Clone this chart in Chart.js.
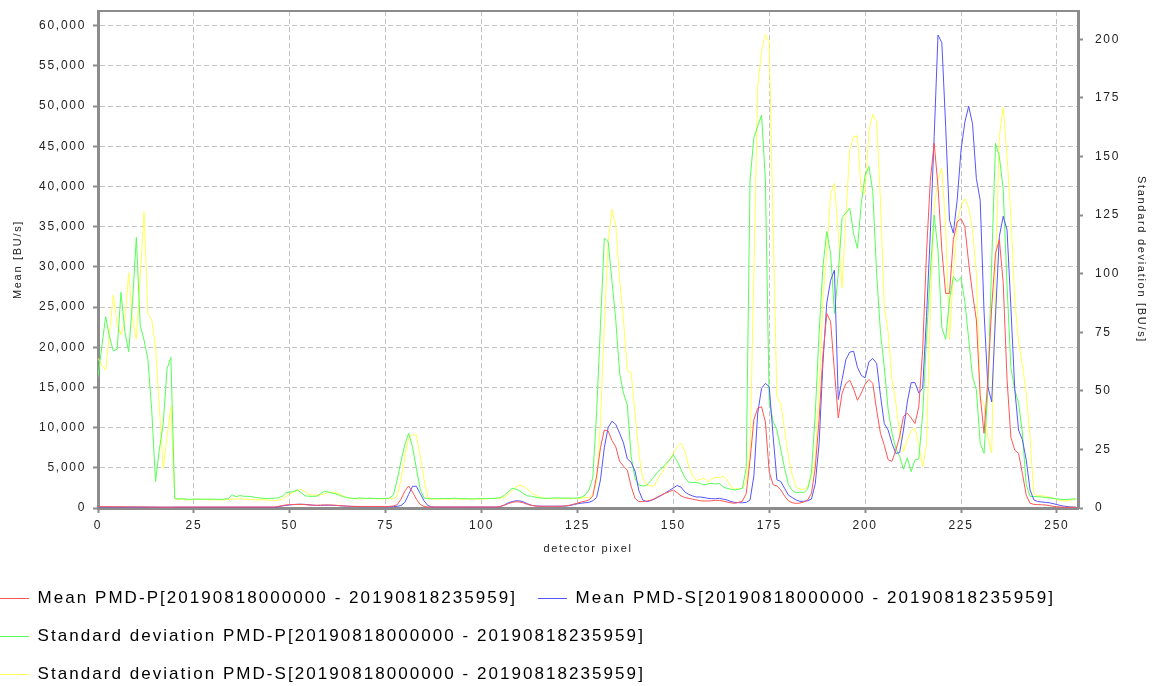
<!DOCTYPE html>
<html>
<head>
<meta charset="utf-8">
<script src="https://cdn.jsdelivr.net/npm/chart.js@4.4.0/dist/chart.umd.min.js"></script>
<style>
  html, body { margin: 0; padding: 0; background: #fff; }
  #wrap { width: 1155px; height: 686px; }
</style>
</head>
<body>
<div id="wrap"><canvas id="chart" width="1155" height="686"></canvas></div>
<script>
// PMD mean / standard deviation per detector pixel (dual axis line chart)

const pixels = Array.from({ length: 256 }, (_, i) => i);
const meanTicks = [0, 5000, 10000, 15000, 20000, 25000, 30000, 35000, 40000, 45000, 50000, 55000, 60000];

const seriesNames = [
  'Mean PMD-P[20190818000000 - 20190818235959]',
  'Mean PMD-S[20190818000000 - 20190818235959]',
  'Standard deviation PMD-P[20190818000000 - 20190818235959]',
  'Standard deviation PMD-S[20190818000000 - 20190818235959]'
];

// left axis, BU/s
const meanP = [
  180,170,160,160,150,150,150,140,140,140,140,130,130,120,120,110,
  110,100,100,100,120,120,120,120,120,120,120,120,120,120,120,120,
  120,120,120,120,120,120,120,120,120,120,120,120,120,120,120,200,
  300,380,420,440,450,450,420,380,350,340,360,380,380,360,330,300,
  260,230,210,200,200,190,190,190,190,190,190,190,200,250,400,1100,
  2100,2740,2000,1100,450,180,130,120,120,120,120,120,120,120,120,120,
  120,120,120,120,120,120,120,120,120,200,350,550,700,780,750,620,
  450,320,250,220,210,210,210,210,220,230,260,350,480,600,750,850,
  1000,1500,4000,7500,9700,9600,8400,7600,5800,5200,4700,2700,1200,800,790,850,
  950,1150,1400,1650,1850,2050,2240,1900,1500,1300,1200,1100,1000,900,870,880,
  900,950,950,850,750,650,580,700,850,1800,6000,11000,12400,12600,10700,4500,
  2900,2750,2250,1500,900,650,580,620,750,1000,1800,5000,11000,19000,24200,23200,
  17000,11200,14300,15500,15900,14800,13400,14300,15400,16000,15500,12200,9300,7800,6000,5800,
  7200,8900,11400,11800,11200,10500,12600,19700,31700,40800,45400,40000,32100,26700,26700,33400,
  35600,36000,35000,30500,26700,23400,14000,9300,16000,25000,31700,33400,28000,16000,8800,7200,
  6800,4300,1600,600,450,420,400,380,300,220,150,120,100,90,80,80
];

const meanS = [
  130,130,125,125,120,120,120,115,115,115,110,110,110,105,105,105,
  100,100,100,100,100,100,100,100,100,100,100,100,100,100,100,100,
  100,100,100,100,100,100,100,100,100,100,100,100,100,100,100,150,
  250,320,380,420,460,470,450,400,350,320,320,340,350,340,320,280,
  250,220,200,190,180,170,170,170,170,170,170,170,170,180,200,300,
  700,1700,2700,2700,1800,900,300,150,120,120,120,120,120,120,120,120,
  120,120,120,120,120,120,120,120,120,200,400,650,800,900,880,750,
  520,350,260,230,220,220,220,220,220,230,250,300,420,520,600,650,
  700,900,1300,3500,7500,10000,10800,10400,9300,8100,6100,5700,4600,2200,1000,800,
  900,1100,1350,1600,1900,2200,2500,2800,2600,2000,1700,1500,1370,1370,1300,1200,
  1160,1160,1200,1100,1000,800,700,660,650,700,1000,4000,11800,14900,15500,15100,
  9000,3500,3300,2450,1600,1300,1000,830,830,900,1100,3000,8000,18000,25500,28300,
  29600,13500,16000,18500,19400,19500,17500,16500,16200,18200,18600,18000,14000,10500,9700,8050,
  6800,6900,9700,13200,15600,15600,14300,14900,23800,34200,46200,58850,57900,47500,35800,34200,
  38300,44500,48000,50000,47800,41000,38300,24500,15100,13200,24000,33800,36300,34600,25000,14900,
  9700,8500,6000,2240,1000,800,750,700,650,550,420,300,220,160,120,100
];

// right axis, BU/s
const stdP = [
  56,69,81.7,73,67,67.8,92,75.3,66.7,88,115.5,78,71.7,63.5,42,11.3,
  25,36,59.4,64.3,4.1,3.8,4.0,3.8,3.7,3.8,3.8,3.7,3.8,3.8,3.8,3.7,
  3.7,3.8,4.0,5.6,4.8,5.3,5.0,5.0,4.9,4.5,4.3,4.2,4.0,4.1,4.2,4.3,
  5.0,6.5,6.8,7.0,7.7,6.5,5.2,5.0,5.0,5.0,6.0,7.2,6.8,6.4,6.0,5.4,
  4.8,4.4,4.2,4.0,4.3,4.2,4.1,4.2,4.1,4.0,4.1,4.1,4.2,5.5,12,20,
  27,31.9,26,17,8,4.3,4.0,3.9,4.0,4.0,4.1,4.0,4.1,4.2,4.0,4.0,
  4.0,3.9,3.9,4.0,4.0,4.0,4.1,4.1,4.2,4.5,5.5,7.0,8.4,8.0,7.3,6.0,
  5.2,5.0,4.6,4.3,4.2,4.1,4.2,4.3,4.3,4.2,4.3,4.2,4.2,4.3,4.6,5.5,
  7.7,13,41,78,115.1,113.7,97,80,57.5,49,44,22,12.7,9.8,9.4,9.6,
  11.5,13.5,15.6,17,18.8,20.5,22.6,20,16.5,13,11,10.9,10.9,10.5,9.8,10.3,
  10.5,10.2,10.5,9,8.4,8,7.7,8,8.4,17,140,158,163,167.7,140,45,
  37,33.3,25,17,10,7.5,6.5,6.8,6.5,8,15,40,75,103,118,108.7,
  83,100,124,126,128,117,110.8,130,142,145.7,135,100,75,60,42,32,
  25.5,22,16.5,21.5,15.5,20.5,21,40,72,101,125,110,77,72,89,98.7,
  96.6,98.5,88,72,56,50.5,27.6,23.3,50,105,155.6,150,136,95,60,50.4,
  45,32,10,5,4.9,4.8,4.7,4.5,4.3,4.1,3.9,3.7,3.6,3.7,3.8,3.9
];

const stdS = [
  63.9,61,58.9,75,90.9,78,74,80,100.4,80,72,99,126.5,83,80.2,68.9,
  43,16.9,30,43.3,4,3.6,3.7,3.5,3.4,3.6,3.8,3.7,3.6,3.5,3.6,3.5,
  3.4,3.5,3.6,3.8,3.9,3.9,3.8,3.7,3.6,3.5,3.5,3.6,3.4,3.3,3.2,3.3,
  3.8,5.0,6.0,6.8,7.5,7.9,7.0,5.8,5.5,5.5,5.6,6.0,6.6,6.8,6.5,6.0,
  5.0,4.5,4.0,3.9,4.0,3.9,4.0,4.1,4.0,3.9,3.9,4.0,4.0,4.0,5.0,12,
  22,30,31.2,31.2,22,12,4.5,4.0,3.8,3.8,3.9,3.8,3.8,3.9,3.8,3.7,
  3.8,3.8,3.9,3.8,3.8,3.9,4.0,4.0,4.1,4.3,4.5,6.0,7.5,9.0,9.8,9.2,
  8.0,6.5,5.5,4.8,4.3,4.0,4.0,3.9,4.0,4.1,4.0,4.0,4.1,4.0,4.2,4.5,
  4.4,6,11,37,78,113,127.5,120.5,97.3,80.2,58.6,57.8,40.4,23.3,12.7,9.8,
  9.4,9.4,12.7,15,17.8,20.5,23.5,26,27.7,24.2,17.8,14,11.7,12.2,12.7,11.3,
  12.5,13,13,13.5,12,9,8,8.2,8.4,11,25,100,180,195,202,199,
  120,47.5,44.7,33.3,22,14,9,8,8,9,13,20.5,50,89,109,134,
  138.6,117,94,125,152.8,158.5,158.8,135,134.3,161,168,165,131,86,75,55,
  45,32,24,29,33,34,27,17.6,27,85,128,140,145,120,72,100,
  122,129,132,128,119,100,47,44,30,23.5,100,159,171,150,125,89,
  71,61,49,30,6,5.2,5.2,5.0,4.6,4.2,3.6,3.2,3.0,3.2,3.5,3.7
];

const FONT = "'Liberation Sans', Arial, sans-serif";
const AXIS_GREY = '#8c8c8c';
const GRID_GREY = '#c4c4c4';
const TEXT = '#222';

function points(values) {
  return values.map((v, i) => ({ x: pixels[i], y: v }));
}

function lineSet(label, values, color, axis) {
  return {
    label: label,
    data: points(values),
    yAxisID: axis,
    borderColor: color,
    backgroundColor: color,
    borderWidth: 1,
    pointRadius: 0,
    tension: 0,
    fill: false
  };
}

// canvas letter spacing: the source renders its text fairly wide
const spacingPlugin = {
  id: 'spacing',
  afterInit(chart) {
    const lg = chart.legend;
    if (!lg) return;
    ['fit', 'draw'].forEach(function (name) {
      const orig = lg[name];
      lg[name] = function () {
        const ctx = this.ctx;
        const prev = ctx.letterSpacing;
        ctx.letterSpacing = '2.05px';
        const r = orig.apply(this, arguments);
        ctx.letterSpacing = prev;
        return r;
      };
    });
  },
  beforeLayout(chart) { chart.ctx.letterSpacing = '1.7px'; },
  beforeDraw(chart) { chart.ctx.letterSpacing = '1.7px'; }
};

// top edge of the plot frame
const framePlugin = {
  id: 'frame',
  beforeDatasetsDraw(chart) {
    const a = chart.chartArea;
    const ctx = chart.ctx;
    ctx.save();
    ctx.strokeStyle = AXIS_GREY;
    ctx.lineWidth = 2;
    ctx.beginPath();
    ctx.moveTo(a.left, a.top);
    ctx.lineTo(a.right, a.top);
    ctx.stroke();
    ctx.restore();
  }
};

function fixWidth(w) {
  return function (s) {
    s.width = w;
    s.paddingTop = 0;
    s.paddingBottom = 0;
  };
}

const tickFont = { family: FONT, size: 12 };
const titleFont = { family: FONT, size: 11 };

const chart = new Chart(document.getElementById('chart'), {
  type: 'line',
  data: {
    datasets: [
      lineSet(seriesNames[0], meanP, '#ff5555', 'y'),
      lineSet(seriesNames[1], meanS, '#5555ff', 'y'),
      lineSet(seriesNames[2], stdP, '#55ff55', 'y1'),
      lineSet(seriesNames[3], stdS, '#ffff55', 'y1')
    ]
  },
  options: {
    responsive: false,
    animation: false,
    events: [],
    layout: { padding: { top: 11, left: -21, right: 0, bottom: -7 } },
    scales: {
      x: {
        type: 'linear',
        min: 0,
        max: 255.5,
        afterFit(s) { s.height = 61; },
        ticks: { stepSize: 25, includeBounds: false, autoSkip: false, maxRotation: 0, padding: 5, color: TEXT, font: tickFont },
        grid: { color: GRID_GREY, lineWidth: 1, tickLength: 5, tickColor: AXIS_GREY, tickWidth: 2 },
        border: { color: AXIS_GREY, width: 3, dash: [5, 3] },
        title: { display: true, text: 'detector pixel', color: TEXT, font: titleFont, padding: { top: 0, bottom: 13.4 } }
      },
      y: {
        type: 'linear',
        position: 'left',
        min: 0,
        max: 61840,
        afterBuildTicks(s) { s.ticks = meanTicks.map(v => ({ value: v })); },
        afterFit: fixWidth(119),
        ticks: { padding: 7, color: TEXT, font: tickFont },
        grid: { color: GRID_GREY, lineWidth: 1, tickLength: 5, tickColor: AXIS_GREY, tickWidth: 2 },
        border: { color: AXIS_GREY, width: 3, dash: [5, 3] },
        title: { display: true, text: 'Mean [BU/s]', color: TEXT, font: titleFont, padding: { top: 31.9, bottom: 0 } }
      },
      y1: {
        type: 'linear',
        position: 'right',
        min: 0,
        max: 212.1,
        afterFit: fixWidth(77),
        ticks: { stepSize: 25, includeBounds: false, padding: 12, color: TEXT, font: tickFont },
        grid: { drawOnChartArea: false, tickLength: 5, tickColor: AXIS_GREY, tickWidth: 2 },
        border: { color: AXIS_GREY, width: 3 },
        title: { display: true, text: 'Standard deviation [BU/s]', color: TEXT, font: titleFont, padding: { top: 7.4, bottom: 0 } }
      }
    },
    plugins: {
      legend: {
        position: 'bottom',
        align: 'start',
        labels: {
          usePointStyle: true,
          pointStyle: 'line',
          pointStyleWidth: 29,
          padding: 21,
          color: '#000',
          font: { family: FONT, size: 17 }
        }
      },
      tooltip: { enabled: false }
    }
  },
  plugins: [spacingPlugin, framePlugin]
});
</script>
</body>
</html>
